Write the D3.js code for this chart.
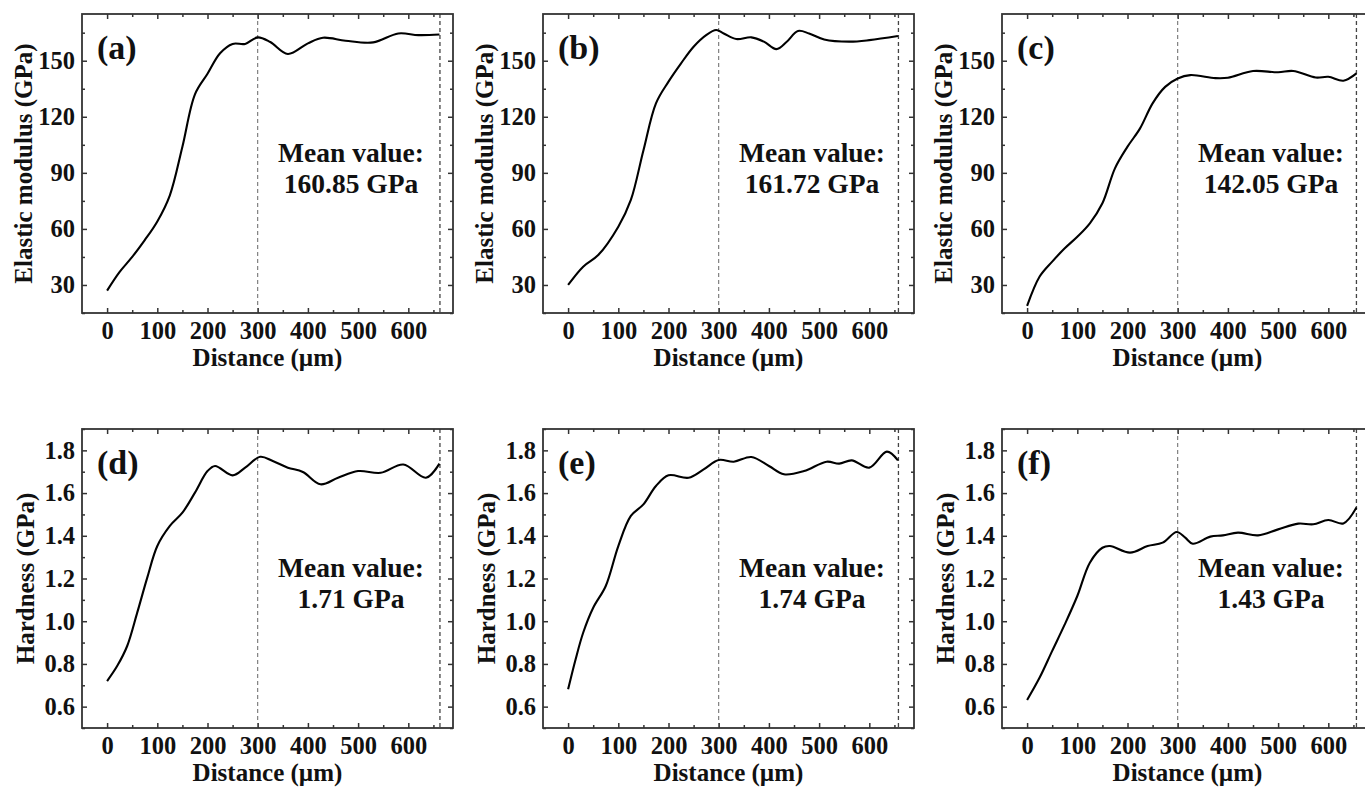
<!DOCTYPE html>
<html>
<head>
<meta charset="utf-8">
<script src="https://cdn.jsdelivr.net/npm/d3@7/dist/d3.min.js"></script>
<style>
  body { margin: 0; background: #fff; }
  svg { display: block; }
  text { font-family: "Liberation Serif", "Times New Roman", serif; font-weight: bold; fill: #111; }
</style>
</head>
<body>
<svg id="chart" width="1365" height="787"></svg>
<script>
// Panel (a) elastic modulus
const distA = [0, 25, 50, 75, 100, 125, 150, 175, 200, 225, 250, 275, 300, 325, 360, 400, 430, 475, 530, 580, 620, 662];
const modA  = [27, 37, 45, 54, 64, 78, 104, 132, 143, 154, 159, 159, 162.5, 160, 153.6, 159.3, 162.3, 160.7, 159.8, 164.6, 163.7, 164];
// Panel (b)
const distB = [0, 30, 60, 100, 125, 150, 175, 200, 225, 250, 275, 295, 310, 335, 365, 390, 415, 435, 458, 480, 510, 560, 600, 657];
const modB  = [30, 39.8, 46, 61.2, 75.5, 102, 127.2, 138.8, 148.6, 157.5, 163.7, 166.4, 164.6, 161.6, 162.5, 160.2, 156.2, 160, 165.9, 164.6, 161.4, 160.2, 161, 163.2];
// Panel (c)
const distC = [0, 25, 50, 75, 100, 125, 150, 175, 200, 225, 250, 275, 300, 325, 375, 400, 450, 500, 530, 575, 600, 630, 656];
const modC  = [18.8, 34.5, 42.5, 49.6, 55.8, 63, 73.7, 92.4, 104, 113.8, 127.2, 136, 140.5, 142.3, 140.7, 140.9, 144.5, 143.8, 144.5, 141, 141.4, 139.3, 143.2];
// Panel (d) hardness
const distD = [0, 20, 40, 60, 80, 100, 125, 150, 175, 200, 215, 250, 275, 305, 330, 360, 390, 425, 460, 500, 545, 590, 635, 662];
const hardD = [0.72, 0.79, 0.884, 1.04, 1.204, 1.352, 1.446, 1.508, 1.602, 1.703, 1.727, 1.683, 1.719, 1.77, 1.75, 1.719, 1.699, 1.641, 1.672, 1.703, 1.695, 1.734, 1.672, 1.738];
// Panel (e)
const distE = [0, 15, 30, 50, 75, 100, 125, 150, 175, 200, 240, 270, 300, 330, 365, 400, 430, 470, 515, 540, 565, 600, 635, 657];
const hardE = [0.681, 0.822, 0.946, 1.063, 1.165, 1.352, 1.493, 1.547, 1.633, 1.683, 1.672, 1.711, 1.755, 1.747, 1.769, 1.727, 1.688, 1.703, 1.747, 1.738, 1.753, 1.719, 1.794, 1.753];
// Panel (f)
const distF = [0, 25, 50, 75, 100, 125, 150, 165, 205, 240, 270, 298, 315, 330, 365, 390, 420, 460, 500, 540, 570, 600, 630, 656];
const hardF = [0.631, 0.736, 0.861, 0.985, 1.118, 1.274, 1.344, 1.352, 1.321, 1.352, 1.368, 1.418, 1.391, 1.363, 1.396, 1.402, 1.415, 1.402, 1.43, 1.457, 1.454, 1.474, 1.458, 1.532];

const panelLetters = ['(a)', '(b)', '(c)', '(d)', '(e)', '(f)'];
const meanValues = ['160.85 GPa', '161.72 GPa', '142.05 GPa', '1.71 GPa', '1.74 GPa', '1.43 GPa'];
const dashPositions = [663, 658, 656, 663, 658, 656];

const xTicks = [0, 100, 200, 300, 400, 500, 600];
const xMinor = [50, 150, 250, 350, 450, 550, 650];
const modTicks = [30, 60, 90, 120, 150];
const modMinor = [15, 45, 75, 105, 135, 165];
const hardTicks = [0.6, 0.8, 1.0, 1.2, 1.4, 1.6, 1.8];
const hardMinor = [0.5, 0.7, 0.9, 1.1, 1.3, 1.5, 1.7, 1.9];

const svg = d3.select('#chart');
const W = 371, H = 299;
const lefts = [82, 543, 1002];
const tops = [14, 429];

const panels = [
    {x: distA, y: modA, kind: 'mod'},
    {x: distB, y: modB, kind: 'mod'},
    {x: distC, y: modC, kind: 'mod'},
    {x: distD, y: hardD, kind: 'hard'},
    {x: distE, y: hardE, kind: 'hard'},
    {x: distF, y: hardF, kind: 'hard'}
];

panels.forEach((p, i) => {
    const col = i % 3, row = Math.floor(i / 3);
    const g = svg.append('g').attr('transform', `translate(${lefts[col]},${tops[row]})`);

    const x = d3.scaleLinear().domain([-50, 689]).range([0, W]);
    const y = p.kind === 'mod'
        ? d3.scaleLinear().domain([15, 175]).range([H, 0])
        : d3.scaleLinear().domain([0.5, 1.9]).range([H, 0]);
    const yMajor = p.kind === 'mod' ? modTicks : hardTicks;
    const yMinor = p.kind === 'mod' ? modMinor : hardMinor;
    const yFmt = p.kind === 'mod' ? d3.format('d') : d3.format('.1f');

    // inward ticks on all four sides
    const addAxis = (axis, tr) => {
        const a = g.append('g').attr('transform', tr).call(axis);
        a.select('.domain').remove();
        a.selectAll('line').attr('stroke', '#333').attr('stroke-width', 1.5);
        a.selectAll('text').attr('font-size', 24.5).attr('fill', '#111')
            .style('font-family', '"Liberation Serif", serif').style('font-weight', 'bold');
        return a;
    };
    addAxis(d3.axisBottom(x).tickValues(xTicks).tickSize(-5).tickPadding(9), `translate(0,${H})`);
    addAxis(d3.axisBottom(x).tickValues(xMinor).tickSize(-3).tickFormat(''), `translate(0,${H})`);
    addAxis(d3.axisTop(x).tickValues(xTicks).tickSize(-5).tickFormat(''), 'translate(0,0)');
    addAxis(d3.axisTop(x).tickValues(xMinor).tickSize(-3).tickFormat(''), 'translate(0,0)');
    addAxis(d3.axisLeft(y).tickValues(yMajor).tickSize(-5).tickPadding(7).tickFormat(yFmt), 'translate(0,0)');
    addAxis(d3.axisLeft(y).tickValues(yMinor).tickSize(-3).tickFormat(''), 'translate(0,0)');
    addAxis(d3.axisRight(y).tickValues(yMajor).tickSize(-5).tickFormat(''), `translate(${W},0)`);
    addAxis(d3.axisRight(y).tickValues(yMinor).tickSize(-3).tickFormat(''), `translate(${W},0)`);

    // dashed reference lines
    [300, dashPositions[i]].forEach((d, k) => {
        g.append('line')
            .attr('x1', x(d)).attr('x2', x(d))
            .attr('y1', 0).attr('y2', H)
            .attr('stroke', k === 0 ? '#666' : '#444')
            .attr('stroke-width', k === 0 ? 1 : 1.3)
            .attr('stroke-dasharray', '4,3');
    });

    // curve
    const pts = p.x.map((d, j) => [d, p.y[j]]);
    g.append('path')
        .datum(pts)
        .attr('fill', 'none')
        .attr('stroke', '#000')
        .attr('stroke-width', 2.1)
        .attr('d', d3.line().x(d => x(d[0])).y(d => y(d[1])).curve(d3.curveCatmullRom.alpha(0.5)));

    // frame
    g.append('rect')
        .attr('width', W).attr('height', H)
        .attr('fill', 'none').attr('stroke', '#333').attr('stroke-width', 1.8);

    // panel letter
    g.append('text')
        .attr('x', 15).attr('y', 45)
        .attr('font-size', 34)
        .text(panelLetters[i]);

    // mean value annotation
    g.append('text')
        .attr('x', 269).attr('y', 148)
        .attr('text-anchor', 'middle')
        .attr('font-size', 27.5)
        .text('Mean value:');
    g.append('text')
        .attr('x', 269).attr('y', 179)
        .attr('text-anchor', 'middle')
        .attr('font-size', 27.5)
        .text(meanValues[i]);

    // axis titles
    g.append('text')
        .attr('x', W / 2).attr('y', H + 53)
        .attr('text-anchor', 'middle')
        .attr('font-size', 25)
        .text('Distance (\u00b5m)');
    g.append('text')
        .attr('transform', `translate(${p.kind === 'mod' ? -50 : -48},${H / 2}) rotate(-90)`)
        .attr('text-anchor', 'middle')
        .attr('font-size', 25)
        .text(p.kind === 'mod' ? 'Elastic modulus (GPa)' : 'Hardness (GPa)');
});
</script>
</body>
</html>
